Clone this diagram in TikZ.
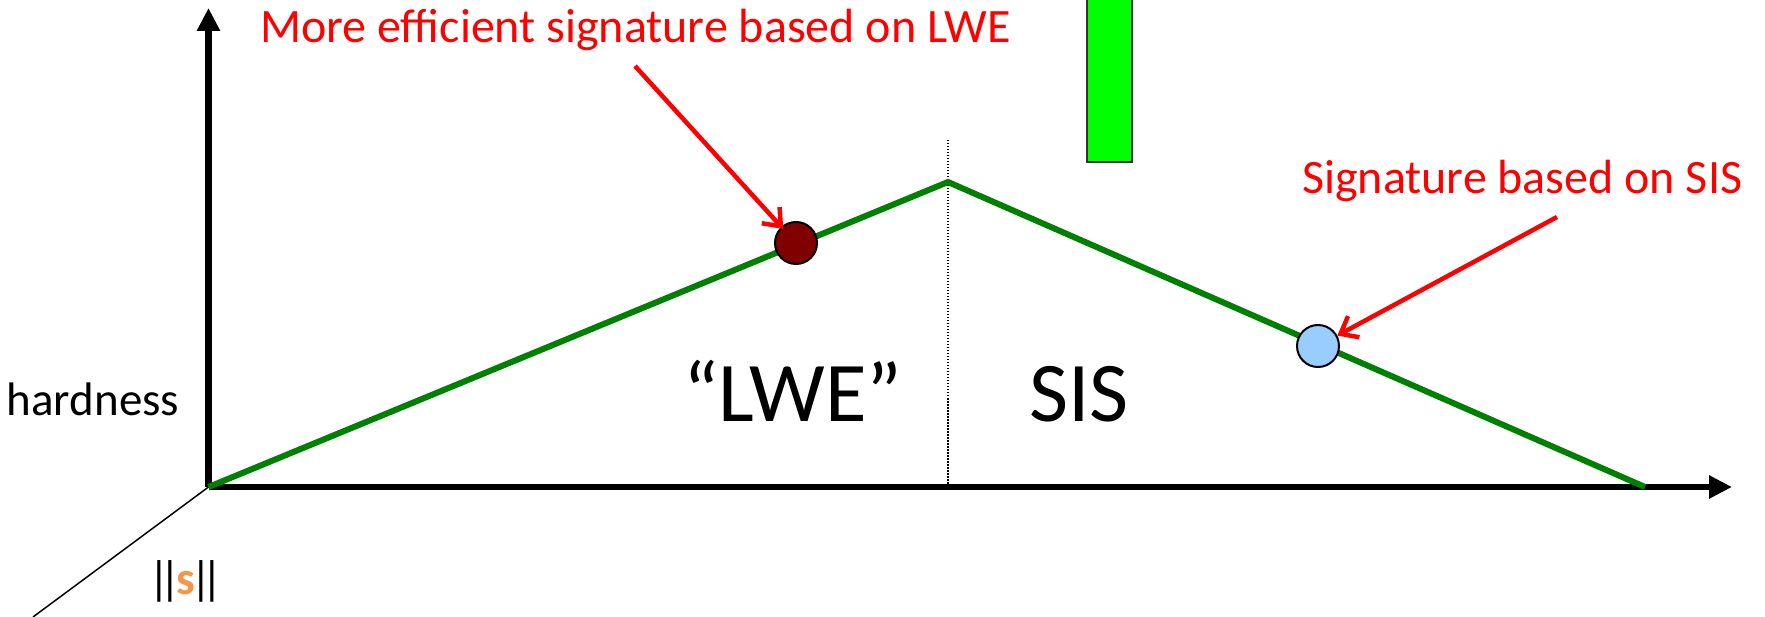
\documentclass[tikz,border=0pt]{standalone}
\usepackage{fontspec}
\setmainfont{Carlito}
\usetikzlibrary{arrows.meta}
\definecolor{curvegreen}{RGB}{0,128,0}
\definecolor{barfill}{RGB}{0,255,0}
\definecolor{lwedot}{RGB}{128,0,0}
\definecolor{sisdot}{RGB}{153,204,255}
\definecolor{normorange}{RGB}{247,150,70}
\definecolor{notered}{RGB}{255,0,0}
\begin{document}
\begin{tikzpicture}[x=1pt,y=-1pt,
  axis/.style={line width=6.5pt,-{Triangle[width=22pt,length=23pt]}},
  curve/.style={line width=6pt,curvegreen,line join=miter},
  dot/.style={draw=black,line width=2pt,circle,inner sep=0pt,minimum size=42pt},
  pointer/.style={notered,line width=4.5pt,-{Straight Barb[length=15pt,width=24pt,line width=4.5pt]}},
  note/.style={notered,inner sep=0pt,anchor=base west,font=\fontsize{48}{52}\selectfont},
  label/.style={inner sep=0pt,anchor=base west}]
\useasboundingbox (0,0) rectangle (1765,617);

% axes and the depth direction
\coordinate (O) at (208.5,487);
\coordinate (ytip) at (208.5,8);
\coordinate (xtip) at (1732,487);
\coordinate (zend) at (33,617);
\draw[line width=1.5pt] (O) -- (zend);
\draw[dash pattern=on 1.5pt off 1.5pt,line width=1.5pt] (948,140) -- (948,487);
\draw[axis] (O) -- (ytip);
\draw[axis] (O) -- (xtip);

% green bar
\draw[fill=barfill,draw=black!80,line width=1.5pt] (1087,-10) rectangle (1132,162);

% hardness curve
\coordinate (peak) at (948,182);
\coordinate (xend) at (1645,487);
\draw[curve] (O) -- (peak) -- (xend);

% signature points
\node[dot,fill=lwedot] (lwe) at (796,243) {};
\node[dot,fill=sisdot] (sis) at (1318,346) {};

% annotations
\node[note] (lwenote) at (260,43) {More efficient signature based on LWE};
\node[note] (sisnote) at (1302,194) {Signature based on SIS};
\coordinate (lwefrom) at (635,66);
\coordinate (sisfrom) at (1557,217);
\draw[pointer,shorten >=-3pt] (lwefrom) -- (lwe);
\draw[pointer] (sisfrom) -- (sis);

% axis and region labels
\node[label,font=\fontsize{47}{51}\selectfont] (hard) at (6.5,416) {hardness};
\node[label,font=\fontsize{47}{51}\selectfont] (norm) at (148,594)
  {|\kern-0.22em|\kern-0.1em\textcolor{normorange}{\textbf{s}}\kern-0.1em|\kern-0.22em|};
\node[label,font=\fontsize{85}{90}\selectfont] (lwelabel) at (683,422) {“LWE”};
\node[label,font=\fontsize{85}{90}\selectfont] (sislabel) at (1029,422) {SIS};
\end{tikzpicture}
\end{document}
